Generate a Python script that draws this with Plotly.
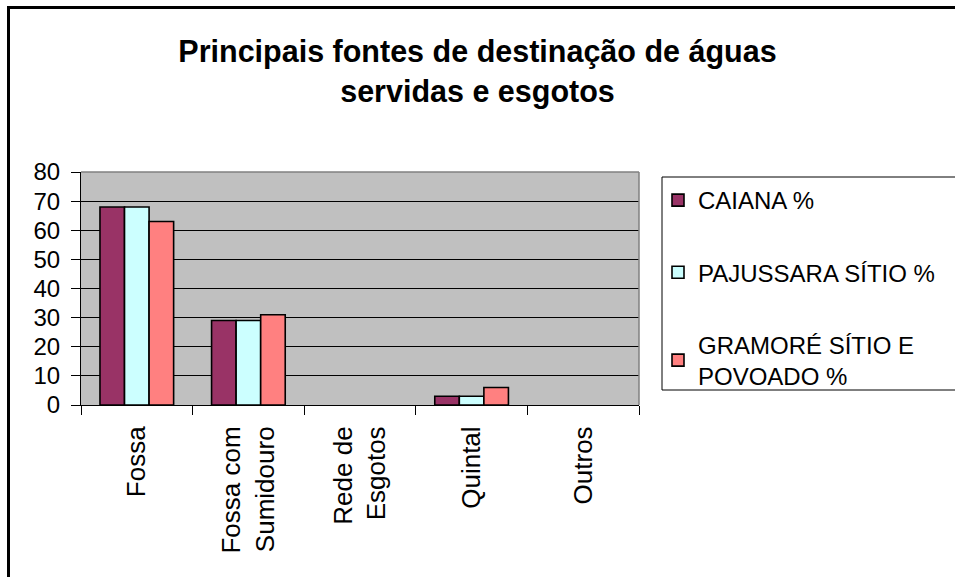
import plotly.graph_objects as go

categories = ["Fossa", "Fossa com<br>Sumidouro", "Rede de<br>Esgotos", "Quintal", "Outros"]
caiana = [68, 29, 0, 3, 0]
pajussara = [68, 29, 0, 3, 0]
gramore = [63, 31, 0, 6, 0]
series_names = ["CAIANA %", "PAJUSSARA SÍTIO %", "GRAMORÉ SÍTIO E<br>POVOADO %"]
series_colors = ["#993366", "#CCFFFF", "#FF8080"]
y_ticks = [0, 10, 20, 30, 40, 50, 60, 70, 80]

FONT = "Arial, 'Liberation Sans', sans-serif"

fig = go.Figure()
for i, (name, vals, col) in enumerate(zip(series_names, [caiana, pajussara, gramore], series_colors)):
    fig.add_trace(go.Bar(
        x=categories, y=vals, name=name,
        marker=dict(color=col,
                    line=dict(color="black", width=[1.6 if v else 0 for v in vals])),
        legendgroup=f"g{i}",
    ))

W, H = 955, 577
L, R, T, B = 81, 639, 172, 405
pw, ph = R - L, B - T

def px_x(p):
    return (p - L) / pw

def px_y(p):
    return (B - p) / ph

fig.update_layout(
    width=W, height=H,
    margin=dict(l=L, r=W - R, t=T, b=H - B, autoexpand=False),
    paper_bgcolor="white",
    plot_bgcolor="#C0C0C0",
    barmode="group", bargap=0.34, bargroupgap=0,
    font=dict(family=FONT, color="black", size=24),
    title=dict(
        text="<b>Principais fontes de destinação de águas<br>servidas e esgotos</b>",
        x=0.5, xref="container", xanchor="center",
        y=1 - 62 / H, yref="container", yanchor="top",
        font=dict(size=30.5, family=FONT, color="black"),
    ),
    showlegend=True,
    legend=dict(
        x=px_x(658), y=px_y(178), xanchor="left", yanchor="top",
        xref="paper", yref="paper",
        bgcolor="rgba(0,0,0,0)", borderwidth=0,
        font=dict(size=24, family=FONT, color="black"),
        tracegroupgap=38, traceorder="grouped",
        itemwidth=30,
    ),
    xaxis=dict(
        type="category", tickangle=-90, tickson="boundaries",
        ticks="outside", ticklen=9, tickcolor="black", tickwidth=1,
        showline=True, linecolor="black", linewidth=1,
        showgrid=False, tickfont=dict(size=26, family=FONT, color="black"),
        ticklabelstandoff=10,
        range=[-0.5, 4.5],
    ),
    yaxis=dict(
        range=[0, 80], tickvals=y_ticks,
        ticks="outside", ticklen=9, tickcolor="black", tickwidth=1,
        showline=True, linecolor="black", linewidth=1,
        showgrid=True, gridcolor="black", gridwidth=1,
        zeroline=False, ticklabelstandoff=6,
        tickfont=dict(size=24, family=FONT, color="black"),
    ),
    shapes=[
        dict(type="line", xref="paper", yref="paper", x0=0, x1=1, y0=1, y1=1,
             line=dict(color="#808080", width=1.5), layer="above"),
        dict(type="line", xref="paper", yref="paper", x0=1, x1=1, y0=0, y1=1,
             line=dict(color="#808080", width=1.5), layer="above"),
        dict(type="rect", xref="paper", yref="paper",
             x0=px_x(662), x1=px_x(975), y0=px_y(390), y1=px_y(177),
             line=dict(color="black", width=1), fillcolor="rgba(0,0,0,0)"),
        dict(type="rect", xref="paper", yref="paper",
             x0=px_x(8.5), x1=px_x(985), y0=px_y(600), y1=px_y(7.5),
             line=dict(color="black", width=3), fillcolor="rgba(0,0,0,0)"),
    ],
)

fig.write_html(
    "out.html",
    config={"displayModeBar": False},
    post_script="document.body.style.margin='0';document.body.style.overflow='hidden';",
)
